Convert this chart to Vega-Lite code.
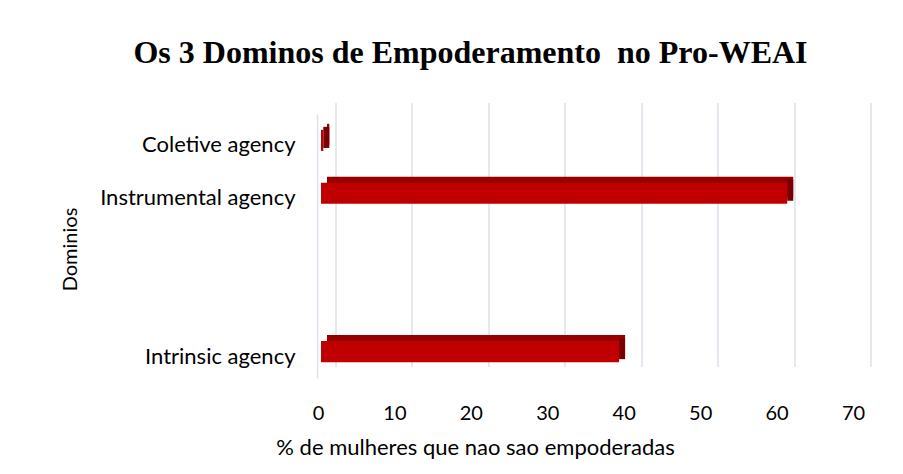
{
  "$schema": "https://vega.github.io/schema/vega-lite/v6.json",
  "autosize": {"type": "none"},
  "width": 535,
  "height": 290,
  "padding": {"left": 321, "top": 88, "right": 47, "bottom": 96},
  "background": "white",
  "title": {
    "text": "Os 3 Dominos de Empoderamento\u00a0 no Pro-WEAI",
    "font": "Liberation Serif",
    "fontSize": 32,
    "fontWeight": "bold",
    "color": "#000000",
    "anchor": "middle",
    "dx": -118,
    "baseline": "alphabetic",
    "offset": -7
  },
  "data": {
    "values": [
      {"dominio": "Coletive agency", "pct": 0.3},
      {"dominio": "Instrumental agency\u00a0\u00a0", "pct": 61},
      {"dominio": "Intrinsic agency", "pct": 39}
    ]
  },
  "layer": [
    {
      "mark": {"type": "bar", "color": "#960000", "xOffset": 6, "yOffset": -6, "y2Offset": -6},
      "encoding": {
        "x": {
          "field": "pct", "type": "quantitative",
          "scale": {"domain": [0, 70], "nice": false},
          "axis": {
            "orient": "bottom",
            "values": [0, 10, 20, 30, 40, 50, 60, 70],
            "grid": true, "gridColor": "#dde1ea", "gridWidth": 1.5,
            "translate": 15,
            "labels": false, "ticks": false, "domain": false, "title": null
          }
        },
        "y": {
          "field": "dominio", "type": "nominal",
          "scale": {
            "domain": ["Coletive agency", "Instrumental agency\u00a0\u00a0", "gap1", "gap2", "Intrinsic agency"],
            "range": [26, 290], "paddingInner": 0.6, "paddingOuter": 0.3
          },
          "axis": {
            "values": ["Coletive agency", "Instrumental agency\u00a0\u00a0", "Intrinsic agency"],
            "domain": true, "domainColor": "#dde1ea", "domainWidth": 1.5,
            "offset": 4, "ticks": false, "grid": false,
            "labelPadding": 22, "labelOffset": 5, "labelLimit": 400,
            "labelFont": "Lato", "labelFontSize": 22, "labelColor": "#000000",
            "title": "Dominios", "titleFont": "Lato", "titleFontSize": 20,
            "titleFontWeight": "normal", "titleColor": "#000000",
            "titleX": -247, "titleY": 161, "titleAngle": -90,
            "titleAlign": "center", "titleBaseline": "middle"
          }
        }
      }
    },
    {
      "mark": {"type": "bar", "color": "#780000", "yOffset": -3, "y2Offset": -3, "x2Offset": 6},
      "encoding": {
        "x": {"field": "pct", "type": "quantitative", "scale": {"domain": [0, 70], "nice": false}, "axis": null},
        "x2": {"field": "pct"},
        "y": {
          "field": "dominio", "type": "nominal",
          "scale": {
            "domain": ["Coletive agency", "Instrumental agency\u00a0\u00a0", "gap1", "gap2", "Intrinsic agency"],
            "range": [26, 290], "paddingInner": 0.6, "paddingOuter": 0.3
          },
          "axis": {
            "values": ["Coletive agency", "Instrumental agency\u00a0\u00a0", "Intrinsic agency"],
            "domain": true, "domainColor": "#dde1ea", "domainWidth": 1.5,
            "offset": 4, "ticks": false, "grid": false,
            "labelPadding": 22, "labelOffset": 5, "labelLimit": 400,
            "labelFont": "Lato", "labelFontSize": 22, "labelColor": "#000000",
            "title": "Dominios", "titleFont": "Lato", "titleFontSize": 20,
            "titleFontWeight": "normal", "titleColor": "#000000",
            "titleX": -247, "titleY": 161, "titleAngle": -90,
            "titleAlign": "center", "titleBaseline": "middle"
          }
        }
      }
    },
    {
      "mark": {"type": "bar", "color": "#c00000"},
      "encoding": {
        "x": {
          "field": "pct", "type": "quantitative",
          "scale": {"domain": [0, 70], "nice": false},
          "axis": {
            "orient": "bottom",
            "values": [0, 10, 20, 30, 40, 50, 60, 70],
            "grid": false, "ticks": false, "tickSize": 0, "domain": false,
            "labelFlush": false,
            "labelFont": "Lato", "labelFontSize": 20, "labelColor": "#000000",
            "labelBaseline": "middle", "labelPadding": 35, "labelOffset": -3,
            "title": "% de mulheres que nao sao empoderadas",
            "titleFont": "Lato", "titleFontSize": 22, "titleFontWeight": "normal",
            "titleColor": "#000000", "titleX": 154, "titleY": 69,
            "titleAlign": "center", "titleBaseline": "middle"
          }
        },
        "y": {
          "field": "dominio", "type": "nominal",
          "scale": {
            "domain": ["Coletive agency", "Instrumental agency\u00a0\u00a0", "gap1", "gap2", "Intrinsic agency"],
            "range": [26, 290], "paddingInner": 0.6, "paddingOuter": 0.3
          },
          "axis": {
            "values": ["Coletive agency", "Instrumental agency\u00a0\u00a0", "Intrinsic agency"],
            "domain": true, "domainColor": "#dde1ea", "domainWidth": 1.5,
            "offset": 4, "ticks": false, "grid": false,
            "labelPadding": 22, "labelOffset": 5, "labelLimit": 400,
            "labelFont": "Lato", "labelFontSize": 22, "labelColor": "#000000",
            "title": "Dominios", "titleFont": "Lato", "titleFontSize": 20,
            "titleFontWeight": "normal", "titleColor": "#000000",
            "titleX": -247, "titleY": 161, "titleAngle": -90,
            "titleAlign": "center", "titleBaseline": "middle"
          }
        }
      }
    }
  ],
  "resolve": {"axis": {"x": "independent"}},
  "config": {"view": {"stroke": null}}
}
